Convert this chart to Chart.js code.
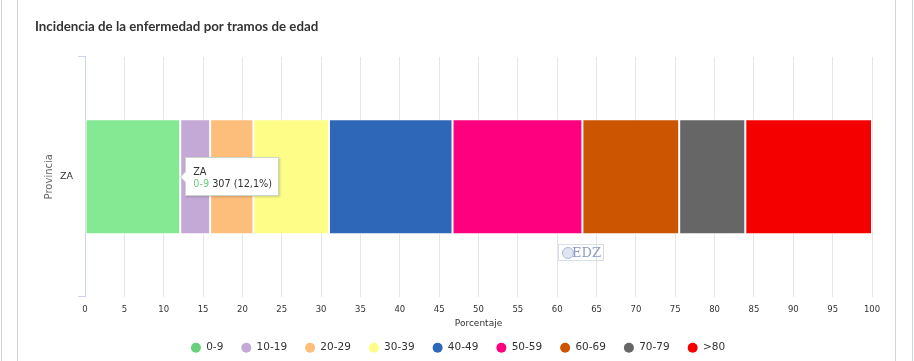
<!DOCTYPE html>
<html>
<head>
<meta charset="utf-8">
<title>Incidencia de la enfermedad por tramos de edad</title>
<script src="https://cdn.jsdelivr.net/npm/chart.js@4.4.1/dist/chart.umd.min.js"></script>
<style>
  html, body { margin: 0; padding: 0; background: #fff; }
  #wrap { position: relative; width: 914px; height: 361px; overflow: hidden; background: #fff; }
  #chart { position: absolute; left: 0; top: 0; }
  .vline { position: absolute; top: 0; bottom: 0; width: 1px; background: #cdd5e0; }
  #tip {
    position: absolute; display: none; background: #fff; border: 1px solid #cdd6cd;
    box-shadow: 1px 1px 2px rgba(0,0,0,.18); padding: 8px 6px 6px 7px;
    font: 9.7px/11.5px "DejaVu Sans", sans-serif; color: #333; white-space: nowrap;
  }
  #tip:before {
    content: ""; position: absolute; left: -6px; top: 50%; margin-top: -6px;
    border-style: solid; border-width: 6px 6px 6px 0; border-color: transparent #cdd6cd transparent transparent;
  }
  #tip:after {
    content: ""; position: absolute; left: -5px; top: 50%; margin-top: -5px;
    border-style: solid; border-width: 5px 5px 5px 0; border-color: transparent #fff transparent transparent;
  }
  #credit {
    position: absolute; left: 558px; top: 244px; width: 42px; height: 15px;
    border: 1px solid #d6deea; color: #8a9cc4; font: 13px/15px "DejaVu Serif", serif;
    text-align: right; padding-right: 2px; box-sizing: content-box;
  }
  #credit:before {
    content: ""; position: absolute; left: 3px; top: 2px; width: 10px; height: 10px;
    border-radius: 50%; border: 1px solid #a9b8d3; background: #dfe6f1;
  }
</style>
</head>
<body>
<div id="wrap">
  <canvas id="chart" width="914" height="361"></canvas>
  <div class="vline" style="left:1px"></div>
  <div class="vline" style="left:17px"></div>
  <div class="vline" style="left:895px"></div>
  <div class="vline" style="left:912px"></div>
  <div id="credit">EDZ</div>
  <div id="tip"><div class="tt-head"></div><div><span class="tt-name"></span> <span class="tt-val"></span></div></div>
</div>
<script>
const provinces = ['ZA'];
const ageGroups = ['0-9', '10-19', '20-29', '30-39', '40-49', '50-59', '60-69', '70-79', '>80'];
const percentages = [12.1, 3.8, 5.5, 9.6, 15.7, 16.5, 12.3, 8.4, 16.1];
const groupColors = ['#6acf7a', '#c4a9d6', '#fdbe7b', '#fdfd87', '#2f67b8', '#fe007f', '#cb5500', '#666666', '#f50000'];
const hoverColors = ['#85e994', '#c4a9d6', '#fdbe7b', '#fdfd87', '#2f67b8', '#fe007f', '#cb5500', '#666666', '#f50000'];
const highlightedCount = 307;

const font = 'DejaVu Sans';

function externalTooltip(context) {
  const { chart, tooltip } = context;
  const el = document.getElementById('tip');
  if (tooltip.opacity === 0 || !tooltip.dataPoints || !tooltip.dataPoints.length) {
    el.style.display = 'none';
    return;
  }
  const dp = tooltip.dataPoints[0];
  el.querySelector('.tt-head').textContent = dp.label;
  const name = el.querySelector('.tt-name');
  name.textContent = dp.dataset.label;
  name.style.color = groupColors[dp.datasetIndex];
  el.querySelector('.tt-val').textContent =
    highlightedCount + ' (' + String(dp.raw).replace('.', ',') + '%)';
  el.style.display = 'block';
  el.style.left = (chart.canvas.offsetLeft + tooltip.caretX + 5) + 'px';
  el.style.top = (chart.canvas.offsetTop + tooltip.caretY - el.offsetHeight / 2) + 'px';
}

// nudge the legend row a little to the right, like the original
const legendShift = {
  id: 'legendShift',
  afterLayout(c) {
    c.legend.left += 4.5;
    c.legend.right += 4.5;
  }
};

const chart = new Chart(document.getElementById('chart'), {
  type: 'bar',
  data: {
    labels: provinces,
    datasets: ageGroups.map((g, i) => ({
      label: g,
      data: [percentages[i]],
      backgroundColor: groupColors[i],
      hoverBackgroundColor: hoverColors[i],
      borderColor: 'rgba(255,255,255,0.75)',
      hoverBorderColor: 'rgba(255,255,255,0.75)',
      borderWidth: 1,
      borderSkipped: false,
      barPercentage: 0.48,
      categoryPercentage: 1
    }))
  },
  options: {
    indexAxis: 'y',
    responsive: false,
    devicePixelRatio: 1,
    animation: false,
    layout: { padding: { left: 35, right: 42, top: 0, bottom: -2 } },
    scales: {
      x: {
        stacked: true, min: 0, max: 100,
        grid: { color: '#e6e6e6', drawTicks: false },
        border: { display: false },
        ticks: { stepSize: 5, padding: 8, color: '#333', font: { family: font, size: 8.5 } },
        title: { display: true, text: 'Porcentaje', color: '#333', padding: { top: 0, bottom: -4 },
                 font: { family: font, size: 9, lineHeight: 1 } },
        afterFit: s => { s.height = 28; }
      },
      y: {
        stacked: true,
        grid: { offset: true, drawOnChartArea: false, drawTicks: true, tickLength: 7, color: '#ccd6eb' },
        border: { display: true, color: '#ccd6eb' },
        ticks: { padding: 5, color: '#333', font: { family: font, size: 9.5 } },
        title: { display: true, text: 'Provincia', color: '#666', padding: { top: 8.5, bottom: 0 },
                 font: { family: font, size: 10 } },
        afterFit: s => { s.width = 50; }
      }
    },
    plugins: {
      title: {
        display: true, align: 'start', text: 'Incidencia de la enfermedad por tramos de edad',
        color: '#333', font: { family: 'Lato', size: 13.3, weight: 'bold', lineHeight: 1.2 },
        padding: { top: 19, bottom: 22 }
      },
      legend: {
        position: 'bottom',
        labels: {
          usePointStyle: true, pointStyle: 'circle', pointStyleWidth: 10, boxHeight: 7,
          padding: 18, color: '#333', font: { family: font, size: 10.5 },
          generateLabels: c => Chart.defaults.plugins.legend.labels.generateLabels(c)
            .map(l => Object.assign(l, { fillStyle: groupColors[l.datasetIndex], lineWidth: 0, strokeStyle: 'transparent' }))
        }
      },
      tooltip: { enabled: false, external: externalTooltip }
    }
  },
  plugins: [legendShift]
});

chart.setActiveElements([{ datasetIndex: 0, index: 0 }]);
chart.tooltip.setActiveElements([{ datasetIndex: 0, index: 0 }], { x: 0, y: 0 });
chart.update();
</script>
</body>
</html>
